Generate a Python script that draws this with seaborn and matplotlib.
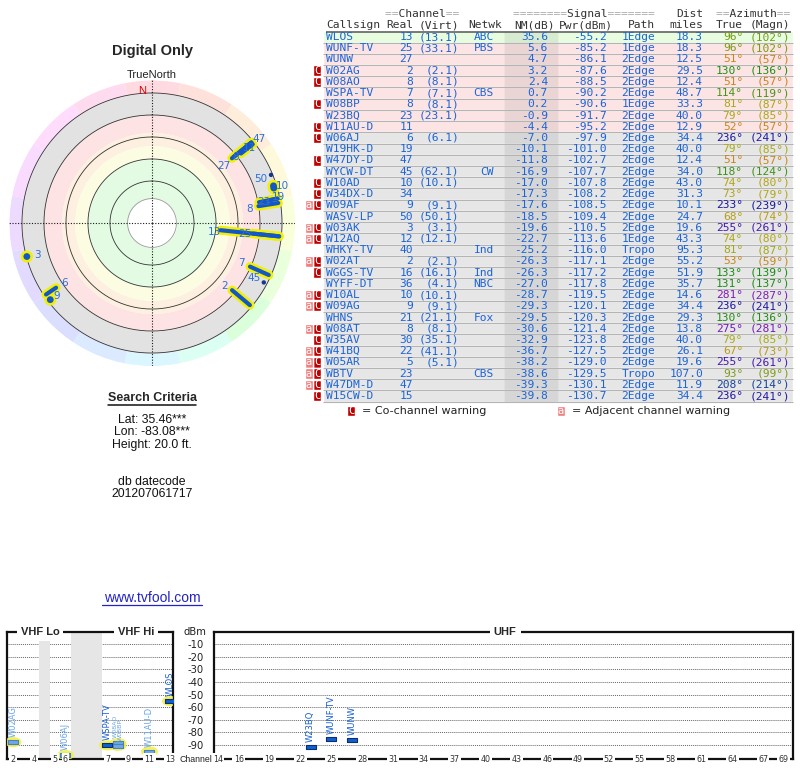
import numpy as np
import pandas as pd
import matplotlib
matplotlib.use("Agg")
import matplotlib.pyplot as plt
import matplotlib.colors as mcolors
import seaborn as sns

# station list
callsigns = ["WLOS", "WUNF-TV", "WUNW", "W02AG", "W08AO", "WSPA-TV", "W08BP", "W23BQ", "W11AU-D", "W06AJ",
             "W19HK-D", "W47DY-D", "WYCW-DT", "W10AD", "W34DX-D", "W09AF", "WASV-LP", "W03AK", "W12AQ",
             "WHKY-TV", "W02AT", "WGGS-TV", "WYFF-DT", "W10AL", "W09AG", "WHNS", "W08AT", "W35AV", "W41BQ",
             "W05AR", "WBTV", "W47DM-D", "W15CW-D"]
real_ch = [13, 25, 27, 2, 8, 7, 8, 23, 11, 6, 19, 47, 45, 10, 34, 9, 50, 3, 12, 40, 2, 16, 36, 10, 9, 21,
           8, 30, 22, 5, 23, 47, 15]
virt_ch = ["13.1", "33.1", "", "2.1", "8.1", "7.1", "8.1", "23.1", "", "6.1", "", "", "62.1", "10.1", "",
           "9.1", "50.1", "3.1", "12.1", "", "2.1", "16.1", "4.1", "10.1", "9.1", "21.1", "8.1", "35.1",
           "41.1", "5.1", "", "", ""]
network = ["ABC", "PBS", "", "", "", "CBS", "", "", "", "", "", "", "CW", "", "", "", "", "", "", "Ind",
           "", "Ind", "NBC", "", "", "Fox", "", "", "", "", "CBS", "", ""]
nm_db = [35.6, 5.6, 4.7, 3.2, 2.4, 0.7, 0.2, -0.9, -4.4, -7.0, -10.1, -11.8, -16.9, -17.0, -17.3, -17.6,
         -18.5, -19.6, -22.7, -25.2, -26.3, -26.3, -27.0, -28.7, -29.3, -29.5, -30.6, -32.9, -36.7, -38.2,
         -38.6, -39.3, -39.8]
pwr_dbm = [-55.2, -85.2, -86.1, -87.6, -88.5, -90.2, -90.6, -91.7, -95.2, -97.9, -101.0, -102.7, -107.7,
           -107.8, -108.2, -108.5, -109.4, -110.5, -113.6, -116.0, -117.1, -117.2, -117.8, -119.5, -120.1,
           -120.3, -121.4, -123.8, -127.5, -129.0, -129.5, -130.1, -130.7]
path = ["1Edge", "1Edge", "2Edge", "2Edge", "2Edge", "2Edge", "1Edge", "2Edge", "2Edge", "2Edge", "2Edge",
        "2Edge", "2Edge", "2Edge", "2Edge", "2Edge", "2Edge", "2Edge", "1Edge", "Tropo", "2Edge", "2Edge",
        "2Edge", "2Edge", "2Edge", "2Edge", "2Edge", "2Edge", "2Edge", "2Edge", "Tropo", "2Edge", "2Edge"]
dist_mi = [18.3, 18.3, 12.5, 29.5, 12.4, 48.7, 33.3, 40.0, 12.9, 34.4, 40.0, 12.4, 34.0, 43.0, 31.3, 10.1,
           24.7, 19.6, 43.3, 95.3, 55.2, 51.9, 35.7, 14.6, 34.4, 29.3, 13.8, 40.0, 26.1, 19.6, 107.0, 11.9,
           34.4]
az_true = [96, 96, 51, 130, 51, 114, 81, 79, 52, 236, 79, 51, 118, 74, 73, 233, 68, 255, 74, 81, 53, 133,
           131, 281, 236, 130, 275, 79, 67, 255, 93, 208, 236]
az_magn = [102, 102, 57, 136, 57, 119, 87, 85, 57, 241, 85, 57, 124, 80, 79, 239, 74, 261, 80, 87, 59, 139,
           137, 287, 241, 136, 281, 85, 73, 261, 99, 214, 241]
warnings = ["", "", "", "C", "C", "", "C", "", "C", "C", "", "C", "", "C", "C", "aC", "", "aC", "aC", "",
            "aC", "C", "", "aC", "aC", "", "aC", "C", "aC", "aC", "aC", "aC", "C"]

vhf_tick_channels = [2, 4, 5, 6, 7, 9, 11, 13]
uhf_tick_channels = [14, 16] + list(range(19, 68, 3)) + [69]
dbm_ticks = [-10, -20, -30, -40, -50, -60, -70, -80, -90]

df = pd.DataFrame({"call": callsigns, "ch": real_ch, "virt": virt_ch, "net": network, "nm": nm_db,
                   "pwr": pwr_dbm, "path": path, "dist": dist_mi, "az": az_true, "mag": az_magn,
                   "warn": warnings})

# label placement in the radar plot: (dx px, dy px, ha)
LABEL_STYLE = {
    "WLOS": (1, -2, "right"), "WUNF-TV": (-2, 0, "right"), "WUNW": (-1, -8, "right"),
    "W02AG": (-4, 4, "right"), "W08AO": (2, 0, "center"), "WSPA-TV": (-5, 4, "right"),
    "W08BP": (-6, -3, "right"), "W23BQ": (-2, 0, "left"), "W11AU-D": (2, 6, "left"),
    "W06AJ": (5, 5, "left"), "W19HK-D": (3, 3, "left"), "W47DY-D": (6, 8, "left"),
    "WYCW-DT": (-3, 4, "right"), "W10AD": (2, 2, "left"), "W09AF": (3, 4, "left"),
    "WASV-LP": (-4, -4, "right"), "W03AK": (7, 2, "left"),
}

sns.set_theme(style="white")
plt.rcParams["font.family"] = ["DejaVu Sans"]
plt.rcParams["axes.unicode_minus"] = False
MONO = "DejaVu Sans Mono"
SANS = "Liberation Sans"
BLUE = "#1c64d8"

W, H = 800, 768
fig = plt.figure(figsize=(W / 100, H / 100), dpi=100)


def px_axes(x, y, w, h, **kw):
    return fig.add_axes([x / W, 1 - (y + h) / H, w / W, h / H], **kw)


# hue wheel shared by azimuth text and the radar rim
HUE_AZ = [0, 45, 90, 135, 180, 225, 270, 315, 360]
HUE_DEG = [-10, 30, 70, 120, 195, 235, 270, 305, 350]
HUE_VAL = [0.8, 0.82, 0.62, 0.55, 0.6, 0.62, 0.72, 0.72, 0.8]


def az_color(az, sat=0.85, val=None):
    h = (np.interp(az, HUE_AZ, HUE_DEG) % 360) / 360
    v = np.interp(az, HUE_AZ, HUE_VAL) if val is None else val
    return mcolors.hsv_to_rgb((h, sat, v))


# ---------------- background text ----------------
ax_bg = fig.add_axes([0, 0, 1, 1])
ax_bg.set_xlim(0, W)
ax_bg.set_ylim(H, 0)
ax_bg.axis("off")
ax_bg.text(152, 51, "Digital Only", ha="center", va="center", fontsize=10.5, fontweight="bold", family=SANS)
ax_bg.text(152, 75, "TrueNorth", ha="center", va="center", fontsize=8, family=SANS, color="#222")
ax_bg.text(152, 398, "Search Criteria", ha="center", va="center", fontsize=9, fontweight="bold", family=SANS)
ax_bg.plot([108, 196], [405, 405], color="#111", lw=1.1)
for y, s in [(420, "Lat: 35.46***"), (432, "Lon: -83.08***"), (445, "Height: 20.0 ft."),
             (482, "db datecode"), (494, "201207061717")]:
    ax_bg.text(152, y, s, ha="center", va="center", fontsize=8.8, family=SANS, color="#111")
ax_bg.text(152, 598, "www.tvfool.com", ha="center", va="center", fontsize=10, family=SANS, color="#2323c8")
ax_bg.plot([102, 202], [605, 605], color="#2323c8", lw=0.9)

# ---------------- radar plot ----------------
R_CENTER, R_EDGE = 98.2, -31.8
BAR_FLOOR = -18
ax_p = px_axes(9, 80, 286, 286, projection="polar")
ax_p.set_theta_zero_location("N")
ax_p.set_theta_direction(-1)
ax_p.patch.set_alpha(0)
theta = np.linspace(0, 2 * np.pi, 361)
for k in range(16):
    th = np.deg2rad(np.linspace(k * 22.5 - 11.25, k * 22.5 + 11.25, 20))
    ax_p.fill_between(th, -20, R_EDGE, color=az_color(k * 22.5, sat=0.14, val=1.0), lw=0, zorder=1)
for v_in, v_out, c in [(0, -20, "#e2e2e2"), (16, 0, "#fde3e3"), (28, 16, "#fdf0e0"), (40, 28, "#fcfce2"),
                       (76, 40, "#e2fbe2"), (R_CENTER, 76, "white")]:
    ax_p.fill_between(theta, v_in, v_out, color=c, lw=0, zorder=1)
for v in [-20, 0, 20, 40, 60, 76]:
    ax_p.plot(theta, np.full_like(theta, v), color="#333" if v < 76 else "#999", lw=0.6, zorder=2)
for t in [0, np.pi / 2, np.pi, 3 * np.pi / 2]:
    ax_p.plot([t, t], [R_CENTER, R_EDGE], color="k", lw=0.8, ls=(0, (1, 1.5)), zorder=3)
ax_p.text(np.deg2rad(-4.3), -22, "N", ha="center", va="center", fontsize=8, family=SANS, color="#dd0000",
          zorder=8)

pol = df[df.nm > -20].copy()
pol["theta"] = np.deg2rad(pol.az)
bars = pol[pol.nm > -15]
for _, s in bars.iterrows():
    ax_p.plot([s.theta] * 2, [s.nm, BAR_FLOOR], color="#f0f000", lw=6.5, solid_capstyle="round", zorder=4)
for _, s in bars.iterrows():
    ax_p.plot([s.theta] * 2, [s.nm, BAR_FLOOR], color="#1456c8", lw=3.0, solid_capstyle="round", zorder=5)
pts = pol[pol.nm <= -15]
halo = pts[pts.warn != ""]
sns.scatterplot(data=halo, x="theta", y="nm", ax=ax_p, s=75, color="#f0f000", edgecolor="none", zorder=4)
sns.scatterplot(data=halo, x="theta", y="nm", ax=ax_p, s=24, color="#1456c8", edgecolor="none", zorder=5)
sns.scatterplot(data=pts[pts.warn == ""], x="theta", y="nm", ax=ax_p, s=10, color="#123a8c",
                edgecolor="none", zorder=5)
for _, s in pol.iterrows():
    if s.call not in LABEL_STYLE:
        continue
    dx, dy, ha = LABEL_STYLE[s.call]
    ax_p.annotate(str(s.ch), (s.theta, s.nm), xytext=(dx, dy), textcoords="offset pixels", ha=ha,
                  va="center", fontsize=7.5, color="#2a6fdb", zorder=7)
ax_p.set_ylim(R_CENTER, R_EDGE)
ax_p.set_xticks([])
ax_p.set_yticks([])
ax_p.grid(False)
ax_p.spines["polar"].set_visible(False)
ax_p.set_xlabel("")
ax_p.set_ylabel("")

# ---------------- station table ----------------
ax_t = px_axes(300, 0, 500, 420)
ax_t.set_xlim(300, 800)


def row_of(y):
    return (y - 37) / 11.22


ax_t.set_ylim(row_of(420), row_of(0))
ax_t.axis("off")
rows = np.arange(len(df))
row_colors = ["#e8fde0" if v >= 15 else "#fde4e4" if v >= -5 else "#e6e6e6" for v in df.nm]
ax_t.barh(rows, 470, left=323, height=1.0, color=row_colors, zorder=1)
ax_t.barh(rows, 54, left=504, height=1.0, color="k", alpha=0.08, zorder=2)
ax_t.hlines(rows + 0.5, 323, 793, color="#b4b4b4", lw=0.8, zorder=3)
ax_t.hlines(row_of(31.5), 326, 791, color="#555", lw=1.1, zorder=3)

hdr = dict(fontsize=8.1, family=MONO, va="center", zorder=5)
for x, gray, word in [(459, "==       ==", "  Channel  "),
                      (655, "========      =======", "        Signal       "),
                      (790, "==       ==", "  Azimuth  ")]:
    ax_t.text(x, row_of(14), gray, ha="right", color="#aaaaaa", **hdr)
    ax_t.text(x, row_of(14), word, ha="right", color="#333", **hdr)
ax_t.text(703, row_of(14), "Dist", ha="right", color="#333", **hdr)
ax_t.text(326, row_of(25), "Callsign", ha="left", color="#333", **hdr)
for x, s in [(413, "Real"), (459, "(Virt)"), (502, "Netwk"), (555, "NM(dB)"), (613, "Pwr(dBm)"),
             (655, "Path"), (703, "miles"), (743, "True"), (790, "(Magn)")]:
    ax_t.text(x, row_of(25), s, ha="right", color="#333", **hdr)

cell = dict(fontsize=8.1, family=MONO, va="center", zorder=5)
for i, s in df.iterrows():
    ax_t.text(326, i, s.call, ha="left", color=BLUE, **cell)
    ax_t.text(413, i, str(s.ch), ha="right", color=BLUE, **cell)
    if s.virt:
        ax_t.text(459, i, f"({s.virt})", ha="right", color=BLUE, **cell)
    ax_t.text(494, i, s.net, ha="right", color=BLUE, **cell)
    ax_t.text(548, i, f"{s.nm:.1f}", ha="right", color=BLUE, **cell)
    ax_t.text(607, i, f"{s.pwr:.1f}", ha="right", color=BLUE, **cell)
    ax_t.text(655, i, s.path, ha="right", color=BLUE, **cell)
    ax_t.text(703, i, f"{s.dist:.1f}", ha="right", color=BLUE, **cell)
    ax_t.text(743, i, f"{s.az}°", ha="right", color=az_color(s.az), **cell)
    ax_t.text(790, i, f"({s.mag}°)", ha="right", color=az_color(s.az), **cell)


def warn_box(row, x, letter, color):
    ax_t.barh(row, 8, left=x, height=0.92, color=color, zorder=4)
    ax_t.text(x + 4, row, letter, ha="center", va="center", color="white", fontsize=7.5, family=MONO,
              zorder=5)


for i, w in enumerate(df.warn):
    if "C" in w:
        warn_box(i, 313, "C", "#c00000")
    if "a" in w:
        warn_box(i, 305, "a", "#f08080")

leg_row = row_of(411)
warn_box(leg_row, 347, "C", "#c00000")
ax_t.text(362, leg_row, "= Co-channel warning", ha="left", va="center", fontsize=8, color="#222")
warn_box(leg_row, 557, "a", "#f08080")
ax_t.text(572, leg_row, "= Adjacent channel warning", ha="left", va="center", fontsize=8, color="#222")

# ---------------- channel spectrum ----------------
DBM_LOW, DBM_HIGH = -101, -0.5


def vhf_slot(ch):
    ch = np.asarray(ch)
    return ch - 2 + (ch >= 5) * 1 + (ch >= 7) * 3


def style_band(ax, xlim, tick_ch, tick_x, titles):
    ax.set_xlim(*xlim)
    ax.set_ylim(DBM_LOW, DBM_HIGH)
    for sp in ax.spines.values():
        sp.set_visible(True)
        sp.set_color("#111")
        sp.set_linewidth(1.6)
    ax.set_xticks([])
    ax.set_yticks(dbm_ticks)
    ax.set_yticklabels([str(v) for v in dbm_ticks])
    ax.yaxis.grid(True, ls=(0, (1, 1)), color="#666", lw=0.7)
    ax.set_axisbelow(True)
    ax.tick_params(axis="y", length=0, labelleft=False)
    for ch, x in zip(tick_ch, tick_x):
        ax.text(x, DBM_LOW, str(ch), ha="center", va="center", fontsize=5.8, color="#333", clip_on=False,
                bbox=dict(boxstyle="square,pad=0.15", fc="white", ec="none"), zorder=6)
    for fx, t in titles:
        ax.text(fx, 1.0, t, transform=ax.transAxes, ha="center", va="center", fontsize=8,
                fontweight="bold", family=SANS, clip_on=False,
                bbox=dict(boxstyle="square,pad=0.35", fc="white", ec="none"), zorder=6)
    ax.set_xlabel("")
    ax.set_ylabel("")


rect = [(-1, -0.42), (1, -0.42), (1, 0.42), (-1, 0.42), (-1, -0.42)]
tt = np.linspace(0, 2 * np.pi, 40)
oval = list(zip(np.cos(tt), 0.6 * np.sin(tt)))


def draw_stations(ax, sub, xcol, halo_on):
    if halo_on:
        sns.scatterplot(data=sub, x=xcol, y="pwr", ax=ax, marker=oval, s=150, color="#f2f040",
                        edgecolor="none", alpha=0.85, zorder=3, legend=False)
    for warned, grp in sub.groupby(sub.warn.str.contains("C")):
        face, edge = ("#6fa8e6", "#4a80c0") if warned else ("#1060d0", "#0a3070")
        sns.scatterplot(data=grp, x=xcol, y="pwr", ax=ax, marker=rect, s=55, color=face, edgecolor=edge,
                        linewidth=0.8, zorder=4, legend=False)
    for ch, grp in sub.groupby("ch"):
        n = len(grp)
        for k, (_, s) in enumerate(grp.iterrows()):
            c = "#6aa6e8" if "C" in s.warn else "#1a5fd0"
            ax.annotate(s.call, (s[xcol], s.pwr), xytext=((k - (n - 1) / 2) * 5, 5),
                        textcoords="offset pixels", rotation=90, ha="center", va="bottom",
                        fontsize=6 if n == 1 else 4.6, color=c, zorder=5)


spec = df[df.nm > -8].copy()
vhf = spec[spec.ch <= 13].copy()
vhf["x"] = vhf_slot(vhf.ch)
uhf = spec[spec.ch >= 14].copy()
uhf["x"] = uhf.ch

ax_v = px_axes(7, 632, 166, 127)
for lo, hi in [(4, 5), (6, 7)]:
    ax_v.axvspan(vhf_slot(lo) + 0.5, vhf_slot(hi) - 0.5, color="#e6e6e6", lw=0, zorder=1.5)
draw_stations(ax_v, vhf, "x", True)
style_band(ax_v, (-0.57, 15.24), vhf_tick_channels, vhf_slot(vhf_tick_channels),
           [(0.2, "VHF Lo"), (0.777, "VHF Hi")])

ax_u = px_axes(214, 632, 579, 127)
draw_stations(ax_u, uhf, "x", False)
style_band(ax_u, (13.6, 69.9), uhf_tick_channels, uhf_tick_channels, [(0.503, "UHF")])
ax_u.tick_params(axis="y", labelleft=True, pad=7.5, labelsize=7.2, labelcolor="#222")
ytr = ax_u.get_yaxis_transform()
ax_u.text(-8 / 579, DBM_HIGH, "dBm", transform=ytr, ha="right", va="center", fontsize=7.2, color="#222")
ax_u.text(-2 / 579, DBM_LOW, "Channel", transform=ytr, ha="right", va="center", fontsize=6.3,
          family=SANS, color="#222",
          bbox=dict(boxstyle="square,pad=0.1", fc="white", ec="none"), zorder=7)

fig.savefig("out.png", dpi=100)
